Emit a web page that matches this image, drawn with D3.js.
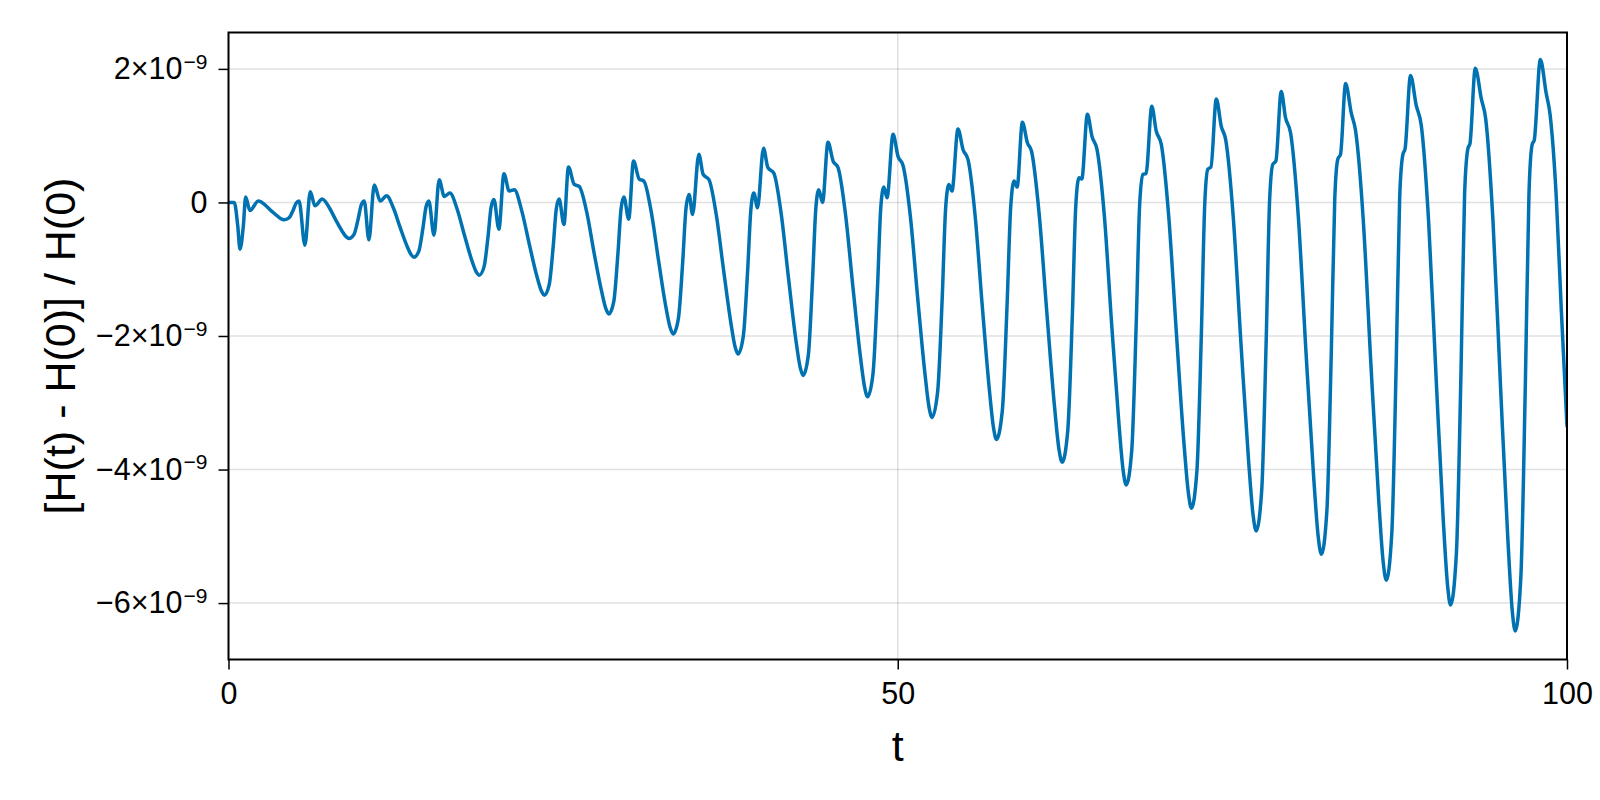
<!DOCTYPE html>
<html>
<head>
<meta charset="utf-8">
<script src="https://cdn.jsdelivr.net/npm/d3@7"></script>
<style>
  html, body { margin: 0; padding: 0; background: #ffffff; }
  svg { display: block; }
</style>
</head>
<body>
<svg id="chart" width="1600" height="800"></svg>
<script>
// ---- data ----
// time t
const tValues = [
  0, 0.43, 0.69, 0.86, 1.11, 1.28, 1.6, 2.23,
  2.72, 3.20, 3.69, 3.98, 4.17, 4.53, 4.83, 5.06,
  5.27, 5.71, 6.11, 6.46, 7.0,
  7.5, 8.0, 8.5, 8.8, 9.0, 9.38, 9.68, 9.92,
  10.14, 10.49, 10.89, 11.34, 11.81,
  12.32, 12.83, 13.34, 13.65, 13.85, 14.22, 14.52, 14.76,
  14.97, 15.35, 15.74, 16.12, 16.54,
  17.09, 17.64, 18.18, 18.51, 18.73, 19.09, 19.39, 19.62,
  19.83, 20.2, 20.58, 20.97, 21.35,
  21.91, 22.48, 23.04, 23.38, 23.6, 23.96, 24.26, 24.49,
  24.7, 25.06, 25.4, 25.83, 26.2,
  26.76, 27.31, 27.87, 28.20, 28.42, 28.79, 29.09, 29.33,
  29.54, 29.9, 30.26, 30.68, 31.03,
  31.58, 32.13, 32.67, 33.0, 33.22, 33.61, 33.93, 34.18,
  34.41, 34.67, 35.14, 35.46, 35.9,
  36.44, 36.99, 37.53, 37.85, 38.07, 38.46, 38.78, 39.03,
  39.25, 39.52, 39.97, 40.3, 40.74,
  41.29, 41.84, 42.38, 42.71, 42.93, 43.32, 43.63, 43.88,
  44.1, 44.38, 44.79, 45.17, 45.54,
  46.09, 46.65, 47.20, 47.53, 47.75, 48.15, 48.48, 48.73,
  48.96, 49.2, 49.65, 50.02, 50.4,
  50.94, 51.48, 52.02, 52.34, 52.56, 52.98, 53.32, 53.58,
  53.82, 54.05, 54.5, 54.88, 55.25,
  55.78, 56.31, 56.84, 57.16, 57.37, 57.81, 58.16, 58.44,
  58.69, 58.92, 59.31, 59.69, 59.99,
  60.56, 61.14, 61.71, 62.05, 62.28, 62.70, 63.04, 63.30,
  63.54, 63.75, 64.17, 64.51, 64.89,
  65.44, 65.98, 66.53, 66.85, 67.07, 67.48, 67.81, 68.07,
  68.31, 68.55, 68.98, 69.31, 69.69,
  70.25, 70.82, 71.38, 71.72, 71.94, 72.35, 72.68, 72.94,
  73.17, 73.4, 73.8, 74.17, 74.5,
  75.07, 75.64, 76.21, 76.55, 76.78, 77.19, 77.52, 77.78,
  78.02, 78.25, 78.65, 78.97, 79.35,
  79.93, 80.50, 81.08, 81.42, 81.65, 82.06, 82.39, 82.65,
  82.88, 83.08, 83.46, 83.88, 84.2,
  84.78, 85.35, 85.93, 86.27, 86.5, 86.91, 87.24, 87.50,
  87.74, 87.9, 88.31, 88.74, 89.11,
  89.66, 90.21, 90.75, 91.08, 91.3, 91.73, 92.08, 92.35,
  92.6, 92.75, 93.15, 93.6, 93.92,
  94.47, 95.03, 95.58, 95.91, 96.13, 96.55, 96.89, 97.16,
  97.4, 97.55, 98.01, 98.44, 98.74, 99.2, 99.57, 100
];
// relative energy error [H(t) - H(0)] / H(0), in units of 1e-9
const relErrorE9 = [
  0.0, 0.0, -0.35, -0.70, -0.35, 0.08, -0.12, 0.02,
  -0.036, -0.126, -0.210, -0.249, -0.26, -0.229, -0.117, -0.008,
  0.02, -0.64, 0.16, -0.05, 0.05,
  -0.068, -0.257, -0.434, -0.516, -0.54, -0.478, -0.254, -0.036,
  0.02, -0.56, 0.26, 0.02, 0.10,
  -0.084, -0.378, -0.654, -0.783, -0.82, -0.728, -0.392, -0.064,
  0.02, -0.49, 0.34, 0.09, 0.14,
  -0.106, -0.50, -0.869, -1.041, -1.09, -0.965, -0.511, -0.07,
  0.045, -0.40, 0.43, 0.17, 0.19,
  -0.126, -0.632, -1.106, -1.327, -1.39, -1.232, -0.656, -0.094,
  0.05, -0.33, 0.53, 0.27, 0.24,
  -0.142, -0.753, -1.326, -1.594, -1.67, -1.477, -0.777, -0.095,
  0.08, -0.25, 0.62, 0.35, 0.32,
  -0.138, -0.871, -1.558, -1.878, -1.97, -1.74, -0.904, -0.089,
  0.12, -0.18, 0.72, 0.42, 0.34,
  -0.182, -1.017, -1.80, -2.166, -2.27, -2.005, -1.041, -0.101,
  0.14, -0.08, 0.81, 0.52, 0.44,
  -0.166, -1.136, -2.045, -2.469, -2.59, -2.284, -1.172, -0.088,
  0.19, 0.0, 0.90, 0.62, 0.52,
  -0.166, -1.264, -2.293, -2.773, -2.91, -2.565, -1.309, -0.084,
  0.23, 0.07, 1.02, 0.69, 0.55,
  -0.204, -1.41, -2.541, -3.069, -3.22, -2.836, -1.44, -0.079,
  0.27, 0.17, 1.10, 0.79, 0.64,
  -0.198, -1.539, -2.796, -3.382, -3.55, -3.124, -1.576, -0.067,
  0.32, 0.23, 1.20, 0.89, 0.77,
  -0.162, -1.653, -3.051, -3.704, -3.89, -3.421, -1.717, -0.056,
  0.37, 0.35, 1.32, 0.99, 0.79,
  -0.214, -1.82, -3.326, -4.029, -4.23, -3.718, -1.858, -0.045,
  0.42, 0.43, 1.44, 1.07, 0.87,
  -0.22, -1.964, -3.599, -4.362, -4.58, -4.021, -1.989, -0.008,
  0.50, 0.53, 1.55, 1.14, 0.94,
  -0.232, -2.107, -3.865, -4.686, -4.92, -4.316, -2.12, 0.021,
  0.57, 0.62, 1.66, 1.27, 1.04,
  -0.222, -2.241, -4.134, -5.018, -5.27, -4.619, -2.251, 0.058,
  0.65, 0.72, 1.78, 1.34, 1.08,
  -0.268, -2.425, -4.447, -5.39, -5.66, -4.958, -2.406, 0.082,
  0.72, 0.80, 1.90, 1.45, 1.16,
  -0.278, -2.579, -4.736, -5.742, -6.03, -5.278, -2.542, 0.126,
  0.81, 0.88, 2.01, 1.55, 1.26,
  -0.276, -2.734, -5.038, -6.113, -6.42, -5.618, -2.702, 0.141,
  0.87, 0.93, 2.14, 1.64, 1.31, 0.07, -1.59, -3.35
];
const xTickValues = [0, 50, 100];
const xTickLabels = ["0", "50", "100"];
const yTickValues = [-6, -4, -2, 0, 2];
const yTickMantissas = ["−6×10", "−4×10", "−2×10", "0", "2×10"];
const yTickExponents = ["−9", "−9", "−9", "", "−9"];
const xLabel = "t";
const yLabel = "[H(t) - H(0)] / H(0)";

// ---- layout ----
const plotLeft = 228.5, plotTop = 32.5, plotRight = 1567, plotBottom = 659.5;
const FONT = "'Liberation Sans', Arial, Helvetica, sans-serif";
const lineColor = "#0072B2";

const svg = d3.select("#chart");
const x = d3.scaleLinear().domain([0, 100]).range([plotLeft, plotRight]);
const y = d3.scaleLinear().domain([-6.845, 2.545]).range([plotBottom, plotTop]);

// grid
const grid = svg.append("g");
grid.selectAll("line.gx").data(xTickValues).join("line")
  .attr("x1", d => x(d)).attr("x2", d => x(d))
  .attr("y1", plotTop).attr("y2", plotBottom)
  .attr("stroke", "rgba(0,0,0,0.12)").attr("stroke-width", 1.5);
grid.selectAll("line.gy").data(yTickValues).join("line")
  .attr("y1", d => y(d)).attr("y2", d => y(d))
  .attr("x1", plotLeft).attr("x2", plotRight)
  .attr("stroke", "rgba(0,0,0,0.12)").attr("stroke-width", 1.5);

// clip
svg.append("clipPath").attr("id", "clip").append("rect")
  .attr("x", plotLeft).attr("y", plotTop)
  .attr("width", plotRight - plotLeft).attr("height", plotBottom - plotTop);

const pts = tValues.map((t, i) => [t, relErrorE9[i]]);
const line = d3.line().x(d => x(d[0])).y(d => y(d[1])).curve(d3.curveMonotoneX);
svg.append("path").datum(pts)
  .attr("clip-path", "url(#clip)")
  .attr("d", line)
  .attr("fill", "none")
  .attr("stroke", lineColor)
  .attr("stroke-width", 3.5)
  .attr("stroke-linejoin", "round")
  .attr("stroke-linecap", "round");

// axes
const xAxis = d3.axisBottom(x).tickValues(xTickValues)
  .tickFormat((d, i) => xTickLabels[i]).tickSize(10).tickPadding(13);
const gx = svg.append("g").attr("transform", `translate(0,${plotBottom})`).call(xAxis);
gx.select(".domain").remove();
gx.selectAll(".tick line").attr("stroke", "#000").attr("stroke-width", 1.5);
gx.selectAll(".tick text").attr("font-family", FONT).attr("font-size", 30.5).attr("fill", "#000");

const yAxis = d3.axisLeft(y).tickValues(yTickValues)
  .tickFormat(() => "").tickSize(10).tickPadding(11);
const gy = svg.append("g").attr("transform", `translate(${plotLeft},0)`).call(yAxis);
gy.select(".domain").remove();
gy.selectAll(".tick line").attr("stroke", "#000").attr("stroke-width", 1.5);
gy.selectAll(".tick text").each(function(d) {
  const i = yTickValues.indexOf(d);
  const t = d3.select(this)
    .attr("font-family", FONT).attr("font-size", 30.5).attr("fill", "#000");
  t.append("tspan").text(yTickMantissas[i]);
  if (yTickExponents[i]) {
    t.append("tspan").attr("font-size", 21).attr("dy", "-0.5em").attr("dx", 1).text(yTickExponents[i]);
  }
});

// spines
svg.append("rect")
  .attr("x", plotLeft).attr("y", plotTop)
  .attr("width", plotRight - plotLeft).attr("height", plotBottom - plotTop)
  .attr("fill", "none").attr("stroke", "#000").attr("stroke-width", 2);

// labels
svg.append("text").attr("x", (plotLeft + plotRight) / 2).attr("y", 761)
  .attr("text-anchor", "middle").attr("font-family", FONT).attr("font-size", 43)
  .attr("fill", "#000").text(xLabel);
svg.append("text")
  .attr("transform", `translate(75,${(plotTop + plotBottom) / 2}) rotate(-90)`)
  .attr("text-anchor", "middle").attr("font-family", FONT).attr("font-size", 43)
  .attr("fill", "#000").text(yLabel);
</script>
</body>
</html>
